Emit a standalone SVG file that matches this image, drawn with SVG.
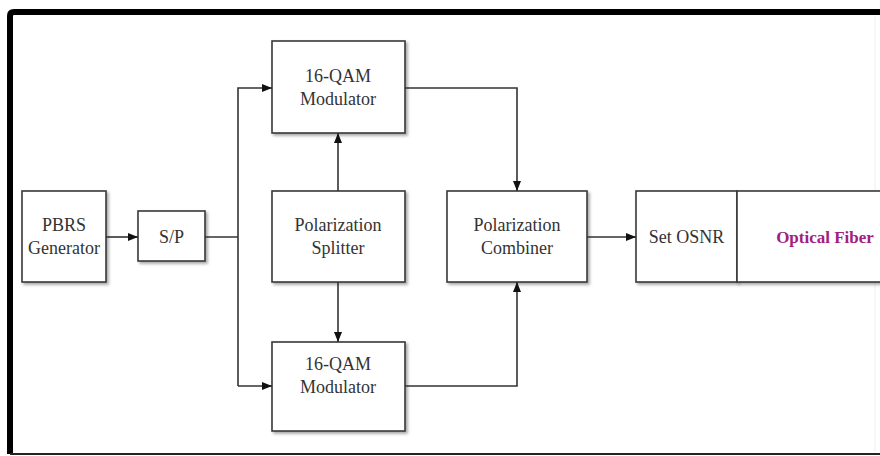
<svg xmlns="http://www.w3.org/2000/svg" width="880" height="456" viewBox="0 0 880 456">
  <defs>
    <marker id="arrow" viewBox="0 0 10 10" refX="10" refY="5" markerWidth="10" markerHeight="10" markerUnits="userSpaceOnUse" orient="auto">
      <path d="M0,1 L10,5 L0,9 Z" fill="#111"/>
    </marker>
    <filter id="shadow" x="-10%" y="-10%" width="130%" height="130%">
      <feDropShadow dx="2" dy="2" stdDeviation="1.5" flood-color="#000" flood-opacity="0.35"/>
    </filter>
  </defs>
  <style>
    .box { fill: #fff; stroke: #3a3a3a; stroke-width: 1.6; filter: url(#shadow); }
    .lbl { font-size: 18px; fill: #333; text-anchor: middle; }
    .fiber { font-size: 17px; font-weight: bold; fill: #a3207f; text-anchor: middle; }
    .wire { fill: none; stroke: #333; stroke-width: 1.6; }
  </style>

  <rect width="880" height="456" fill="#fff"/>

  <!-- frame -->
  <path d="M10,454 L10,16 Q10,12 14,12 L880,12" fill="none" stroke="#000" stroke-width="6"/>
  <line x1="10" y1="454" x2="880" y2="454" stroke="#222" stroke-width="2"/>
  <line x1="875" y1="16" x2="875" y2="452" stroke="#eee" stroke-width="1"/>

  <g font-family="Liberation Serif, DejaVu Serif, serif">
  <g id="pbrs">
    <rect class="box" x="22" y="191" width="84" height="91"/>
    <text class="lbl" x="64" y="231">PBRS</text>
    <text class="lbl" x="64" y="254">Generator</text>
  </g>

  <g id="sp">
    <rect class="box" x="138" y="211" width="67" height="50"/>
    <text class="lbl" x="171.5" y="243">S/P</text>
  </g>

  <g id="mod-top">
    <rect class="box" x="272" y="41" width="133" height="92"/>
    <text class="lbl" x="338" y="82">16-QAM</text>
    <text class="lbl" x="338" y="105">Modulator</text>
  </g>

  <g id="splitter">
    <rect class="box" x="272" y="191" width="133" height="91"/>
    <text class="lbl" x="338" y="231">Polarization</text>
    <text class="lbl" x="338" y="254">Splitter</text>
  </g>

  <g id="mod-bottom">
    <rect class="box" x="272" y="342" width="133" height="89"/>
    <text class="lbl" x="338" y="370">16-QAM</text>
    <text class="lbl" x="338" y="393">Modulator</text>
  </g>

  <g id="combiner">
    <rect class="box" x="447" y="191" width="140" height="91"/>
    <text class="lbl" x="517" y="231">Polarization</text>
    <text class="lbl" x="517" y="254">Combiner</text>
  </g>

  <g id="osnr">
    <rect class="box" x="636" y="191" width="101" height="91"/>
    <text class="lbl" x="686.5" y="243">Set OSNR</text>
  </g>

  <g id="fiber">
    <rect class="box" x="737" y="191" width="160" height="91"/>
    <text class="fiber" x="825" y="243">Optical Fiber</text>
  </g>
  </g>

  <g id="connectors">
    <line class="wire" x1="106" y1="237" x2="138" y2="237" marker-end="url(#arrow)"/>
    <line class="wire" x1="205" y1="237" x2="238" y2="237"/>
    <path class="wire" d="M238,386 L238,88 L272,88" marker-end="url(#arrow)"/>
    <path class="wire" d="M238,386 L272,386" marker-end="url(#arrow)"/>
    <line class="wire" x1="338" y1="191" x2="338" y2="133" marker-end="url(#arrow)"/>
    <line class="wire" x1="338" y1="282" x2="338" y2="342" marker-end="url(#arrow)"/>
    <path class="wire" d="M405,88 L517,88 L517,191" marker-end="url(#arrow)"/>
    <path class="wire" d="M405,386 L517,386 L517,282" marker-end="url(#arrow)"/>
    <line class="wire" x1="587" y1="237" x2="636" y2="237" marker-end="url(#arrow)"/>
  </g>
</svg>
